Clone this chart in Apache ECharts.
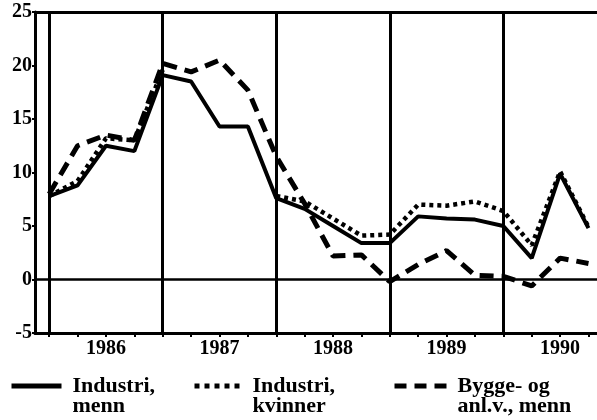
<!DOCTYPE html>
<html>
<head>
<meta charset="utf-8">
<script src="https://cdn.jsdelivr.net/npm/echarts@6/dist/echarts.min.js"></script>
<style>
  html, body { margin: 0; padding: 0; background: #fff; }
  #chart { width: 597px; height: 420px; }
</style>
</head>
<body>
<div id="chart"></div>
<script>
// kvartalstall, 1986-1990
const years = ['1986', '1987', '1988', '1989', '1990']
const yearPos = [2, 6, 10, 14, 18]
const quarterTicks = [0, 1, 2, 3, 4, 5, 6, 7, 8, 9, 10, 11, 12, 13, 14, 15, 16, 17, 18, 19]
const yearLines = [0, 4, 8, 12, 16]

const seriesNames = ['Industri,\nmenn', 'Industri,\nkvinner', 'Bygge- og\nanl.v., menn']
const industriMenn = [7.8, 8.8, 12.5, 12.0, 19.1, 18.5, 14.3, 14.3, 7.6, 6.6, 5.0, 3.4, 3.4, 5.9, 5.7, 5.6, 5.0, 2.0, 9.9, 4.8]
const industriKvinner = [7.8, 9.2, 13.2, 13.0, 19.6, null, null, null, 7.8, 7.3, 5.7, 4.1, 4.2, 7.0, 6.9, 7.3, 6.4, 3.2, 10.1, 4.9]
const byggAnl = [8.0, 12.5, 13.5, 13.0, 20.2, 19.4, 20.5, 17.7, 11.5, 7.1, 2.2, 2.3, -0.2, 1.4, 2.7, 0.4, 0.3, -0.6, 2.0, 1.5]

const font = 'Liberation Serif'
const toPairs = arr => arr.map((v, i) => [i, v])

const chart = echarts.init(document.getElementById('chart'))

const legendText = {
  fontFamily: font,
  fontWeight: 'bold',
  fontSize: 22,
  lineHeight: 20,
  color: '#000',
  padding: [0, 0, 0, 6]
}

const markLines = yearLines.map(x => ({ xAxis: x, lineStyle: { width: 3 } }))
  .concat([{ yAxis: 0, lineStyle: { width: 2.5 } }, { yAxis: 25, lineStyle: { width: 3 } }])

// tom første linje, så ikonet står på høyde med første tekstlinje
const legendBase = {
  top: 350,
  itemHeight: 14,
  textStyle: legendText,
  selectedMode: false,
  formatter: name => '\n' + name,
  itemStyle: { color: 'transparent', borderWidth: 0 }
}

chart.setOption({
  animation: false,
  backgroundColor: '#fff',
  grid: { left: 35, right: 0, top: 12, bottom: 87 },
  legend: [
    { ...legendBase, data: [seriesNames[0]], left: 4, itemWidth: 50, lineStyle: { width: 5 } },
    { ...legendBase, data: [seriesNames[1]], left: 187, itemWidth: 47, lineStyle: { width: 5, type: [5, 5] } },
    { ...legendBase, data: [seriesNames[2]], left: 387, itemWidth: 52, lineStyle: { width: 5, type: [12, 8] } }
  ],
  xAxis: {
    type: 'value',
    min: -0.5,
    max: 19.3,
    splitLine: { show: false },
    axisLine: { show: true, onZero: false, lineStyle: { color: '#000', width: 3 } },
    axisTick: { show: true, customValues: quarterTicks, length: 4, lineStyle: { color: '#000', width: 2 } },
    axisLabel: {
      customValues: yearPos,
      formatter: v => years[yearPos.indexOf(v)] || '',
      margin: 6,
      fontFamily: font,
      fontWeight: 'bold',
      fontSize: 20,
      color: '#000'
    }
  },
  yAxis: {
    type: 'value',
    min: -5,
    max: 25,
    interval: 5,
    splitLine: { show: false },
    axisLine: { show: true, onZero: false, lineStyle: { color: '#000', width: 3 } },
    axisTick: { show: true, length: 3, lineStyle: { color: '#000', width: 2 } },
    axisLabel: {
      margin: 3,
      fontFamily: font,
      fontWeight: 'bold',
      fontSize: 20,
      color: '#000'
    }
  },
  series: [
    {
      name: seriesNames[0],
      type: 'line',
      data: toPairs(industriMenn),
      symbol: 'none',
      lineStyle: { color: '#000', width: 4 },
      itemStyle: { color: '#000' },
      z: 3,
      markLine: {
        silent: true,
        symbol: 'none',
        label: { show: false },
        lineStyle: { color: '#000', type: 'solid' },
        data: markLines
      }
    },
    {
      name: seriesNames[1],
      type: 'line',
      data: toPairs(industriKvinner),
      symbol: 'none',
      lineStyle: { color: '#000', width: 4.5, type: [4, 4] },
      itemStyle: { color: '#000' },
      z: 2
    },
    {
      name: seriesNames[2],
      type: 'line',
      data: toPairs(byggAnl),
      symbol: 'none',
      lineStyle: { color: '#000', width: 5, type: [14, 8] },
      itemStyle: { color: '#000' },
      z: 4
    }
  ]
})
</script>
</body>
</html>
